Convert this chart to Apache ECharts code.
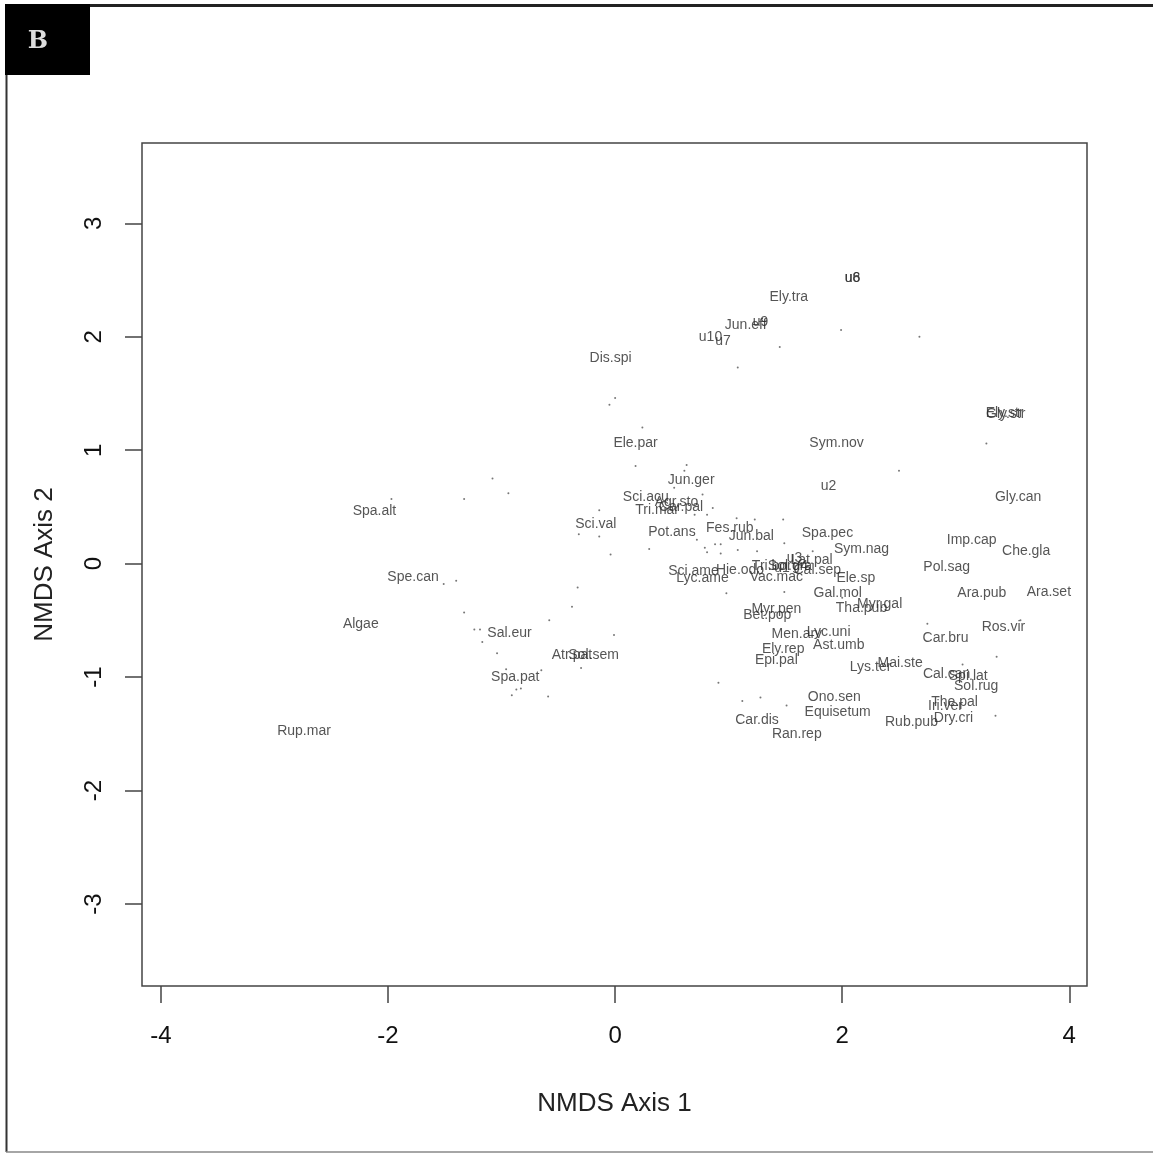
<!DOCTYPE html>
<html>
<head>
<meta charset="utf-8">
<title>NMDS</title>
<script src="https://cdn.jsdelivr.net/npm/echarts@6/dist/echarts.min.js"></script>
<style>
  html, body { margin: 0; padding: 0; background: #fff; }
  #chart { width: 1153px; height: 1154px; }
</style>
</head>
<body>
<div id="chart"></div>
<script>
// species / site labels (text markers)
var labelNames = ['u8', 'u6', 'Ely.tra', 'Jun.eff', 'u9', 'u10', 'u7', 'Dis.spi', 'Ele.par', 'Sym.nov',
  'Gly.str', 'Ely.str', 'Jun.ger', 'u2', 'Gly.can', 'Sci.acu', 'Agr.sto', 'Tri.mar', 'Car.pal', 'Spa.alt',
  'Sci.val', 'Pot.ans', 'Fes.rub', 'Jun.bal', 'Spa.pec', 'Imp.cap', 'Sym.nag', 'Che.gla', 'Pol.sag', 'Spe.can',
  'Sci.ame', 'Lyc.ame', 'Hie.odo', 'Tri.bor', 'Sol.gra', 'u1', 'u3', 'u4', 'Lat.pal', 'Cal.sep',
  'Vac.mac', 'Ele.sp', 'Gal.mol', 'Ara.pub', 'Ara.set', 'Myr.gal', 'Tha.pub', 'Bet.pop', 'Myr.pen', 'Sal.eur',
  'Algae', 'Ros.vir', 'Lyc.uni', 'Men.arv', 'Ast.umb', 'Ely.rep', 'Epi.pal', 'Lys.ter', 'Mai.ste', 'Car.bru',
  'Cal.can', 'Spi.lat', 'Sol.rug', 'The.pal', 'Iri.ver', 'Dry.cri', 'Rub.pub', 'Ono.sen', 'Equisetum', 'Car.dis',
  'Ran.rep', 'Sol.sem', 'Atr.pat', 'Spa.pat', 'Rup.mar'];
var labelX = [2.09, 2.09, 1.53, 1.15, 1.28, 0.84, 0.95, -0.04, 0.18, 1.95,
  3.44, 3.43, 0.67, 1.88, 3.55, 0.27, 0.54, 0.37, 0.58, -2.12,
  -0.17, 0.50, 1.01, 1.20, 1.87, 3.14, 2.17, 3.62, 2.92, -1.78,
  0.69, 0.77, 1.10, 1.38, 1.54, 1.47, 1.58, 1.63, 1.73, 1.78,
  1.42, 2.12, 1.96, 3.23, 3.82, 2.33, 2.17, 1.34, 1.42, -0.93,
  -2.24, 3.42, 1.88, 1.60, 1.97, 1.48, 1.42, 2.25, 2.51, 2.91,
  2.92, 3.11, 3.18, 2.99, 2.91, 2.98, 2.61, 1.93, 1.96, 1.25,
  1.60, -0.19, -0.38, -0.88, -2.74];
var labelY = [2.52, 2.52, 2.35, 2.10, 2.13, 2.00, 1.96, 1.81, 1.06, 1.06,
  1.32, 1.33, 0.74, 0.68, 0.59, 0.59, 0.54, 0.47, 0.50, 0.46,
  0.35, 0.28, 0.31, 0.24, 0.27, 0.21, 0.13, 0.11, -0.03, -0.12,
  -0.07, -0.13, -0.06, -0.02, -0.02, -0.04, 0.05, -0.02, 0.03, -0.06,
  -0.12, -0.13, -0.26, -0.26, -0.25, -0.36, -0.39, -0.45, -0.40, -0.61,
  -0.53, -0.56, -0.60, -0.62, -0.72, -0.75, -0.85, -0.91, -0.88, -0.66,
  -0.97, -0.99, -1.08, -1.22, -1.26, -1.36, -1.40, -1.18, -1.31, -1.38,
  -1.50, -0.81, -0.81, -1.00, -1.48];

// unlabelled sample points
var dotX = [1.99, 2.68, 1.45, 1.08, 0.00, -0.05, 0.24, 2.50, 0.18, 0.63,
  0.61, 0.52, 0.77, 0.86, -0.14, 0.70, 0.81, 1.07, 1.23, 1.48,
  -0.32, -0.14, 0.72, 0.30, 0.79, 0.88, 0.93, 0.81, 0.93, 1.08,
  1.25, 1.49, 1.74, -0.04, -0.33, -0.38, 0.98, 1.49, -0.01, -0.30,
  2.75, 0.91, 1.12, 1.28, 1.51, 3.06, 3.27, 3.36, 3.35, -1.97,
  -1.08, -0.94, -1.33, -1.51, -1.40, -1.33, -0.58, -1.24, -1.19, -1.17,
  -1.04, -0.65, -0.96, -0.83, -0.87, -0.91, -0.59, 3.57, 2.00];
var dotY = [2.06, 2.00, 1.91, 1.73, 1.46, 1.40, 1.20, 0.82, 0.86, 0.87,
  0.82, 0.67, 0.61, 0.49, 0.47, 0.43, 0.43, 0.40, 0.39, 0.39,
  0.26, 0.24, 0.21, 0.13, 0.14, 0.17, 0.17, 0.10, 0.09, 0.12,
  0.11, 0.18, 0.11, 0.08, -0.21, -0.38, -0.26, -0.25, -0.63, -0.92,
  -0.53, -1.05, -1.21, -1.18, -1.25, -0.89, 1.06, -0.82, -1.34, 0.57,
  0.75, 0.62, 0.57, -0.18, -0.15, -0.43, -0.50, -0.58, -0.58, -0.69,
  -0.79, -0.94, -0.93, -1.10, -1.11, -1.16, -1.17, -0.50, -0.30];

var xTicks = [-4, -2, 0, 2, 4];
var yTicks = [-3, -2, -1, 0, 1, 2, 3];

var labelData = labelNames.map(function (n, i) {
  return { name: n, value: [labelX[i], labelY[i]] };
});
var dotData = dotX.map(function (x, i) { return [x, dotY[i]]; });

var chart = echarts.init(document.getElementById('chart'));
var font = 'Liberation Sans, Arial, sans-serif';

chart.setOption({
  animation: false,
  backgroundColor: '#fff',
  grid: {
    left: 142,
    top: 143,
    width: 945,
    height: 843,
    show: true,
    borderColor: '#444',
    borderWidth: 1.5,
    backgroundColor: 'transparent'
  },
  xAxis: {
    type: 'value',
    min: -4.167,
    max: 4.156,
    name: 'NMDS Axis 1',
    nameLocation: 'middle',
    nameGap: 105,
    nameTextStyle: { fontSize: 26, color: '#222', fontFamily: font },
    axisLine: { show: false, onZero: false },
    splitLine: { show: false },
    axisTick: {
      show: true,
      length: 17,
      customValues: xTicks,
      lineStyle: { color: '#444', width: 1.5 }
    },
    axisLabel: {
      customValues: xTicks,
      fontSize: 24,
      margin: 38,
      color: '#111',
      fontFamily: font
    }
  },
  yAxis: {
    type: 'value',
    min: -3.723,
    max: 3.708,
    name: 'NMDS Axis 2',
    nameLocation: 'middle',
    nameGap: 84,
    nameRotate: 90,
    nameTextStyle: { fontSize: 26, color: '#222', fontFamily: font },
    axisLine: { show: false, onZero: false },
    splitLine: { show: false },
    axisTick: {
      show: true,
      length: 17,
      customValues: yTicks,
      lineStyle: { color: '#444', width: 1.5 }
    },
    axisLabel: {
      customValues: yTicks,
      rotate: 90,
      fontSize: 24,
      margin: 36,
      color: '#111',
      fontFamily: font
    }
  },
  series: [
    {
      name: 'sites',
      type: 'scatter',
      symbol: 'circle',
      symbolSize: 2,
      itemStyle: { color: '#555' },
      data: dotData,
      silent: true
    },
    {
      name: 'species',
      type: 'scatter',
      symbolSize: 0,
      data: labelData,
      silent: true,
      label: {
        show: true,
        position: 'inside',
        formatter: '{b}',
        fontSize: 14,
        color: '#2a2a2a',
        fontFamily: font
      }
    }
  ],
  graphic: [
    { type: 'rect', shape: { x: 5, y: 4, width: 85, height: 71 }, style: { fill: '#000' } },
    {
      type: 'text', x: 38, y: 42,
      style: {
        text: 'B', fill: '#ddd', fontSize: 24, fontFamily: 'DejaVu Serif, serif',
        fontWeight: 'bold', align: 'center', verticalAlign: 'middle'
      }
    },
    { type: 'line', shape: { x1: 90, y1: 5.5, x2: 1153, y2: 5.5 }, style: { stroke: '#222', lineWidth: 3 } },
    { type: 'line', shape: { x1: 6.5, y1: 75, x2: 6.5, y2: 1152 }, style: { stroke: '#333', lineWidth: 2 } },
    { type: 'line', shape: { x1: 6, y1: 1152, x2: 1153, y2: 1152 }, style: { stroke: '#888', lineWidth: 1.5 } }
  ]
});
</script>
</body>
</html>
